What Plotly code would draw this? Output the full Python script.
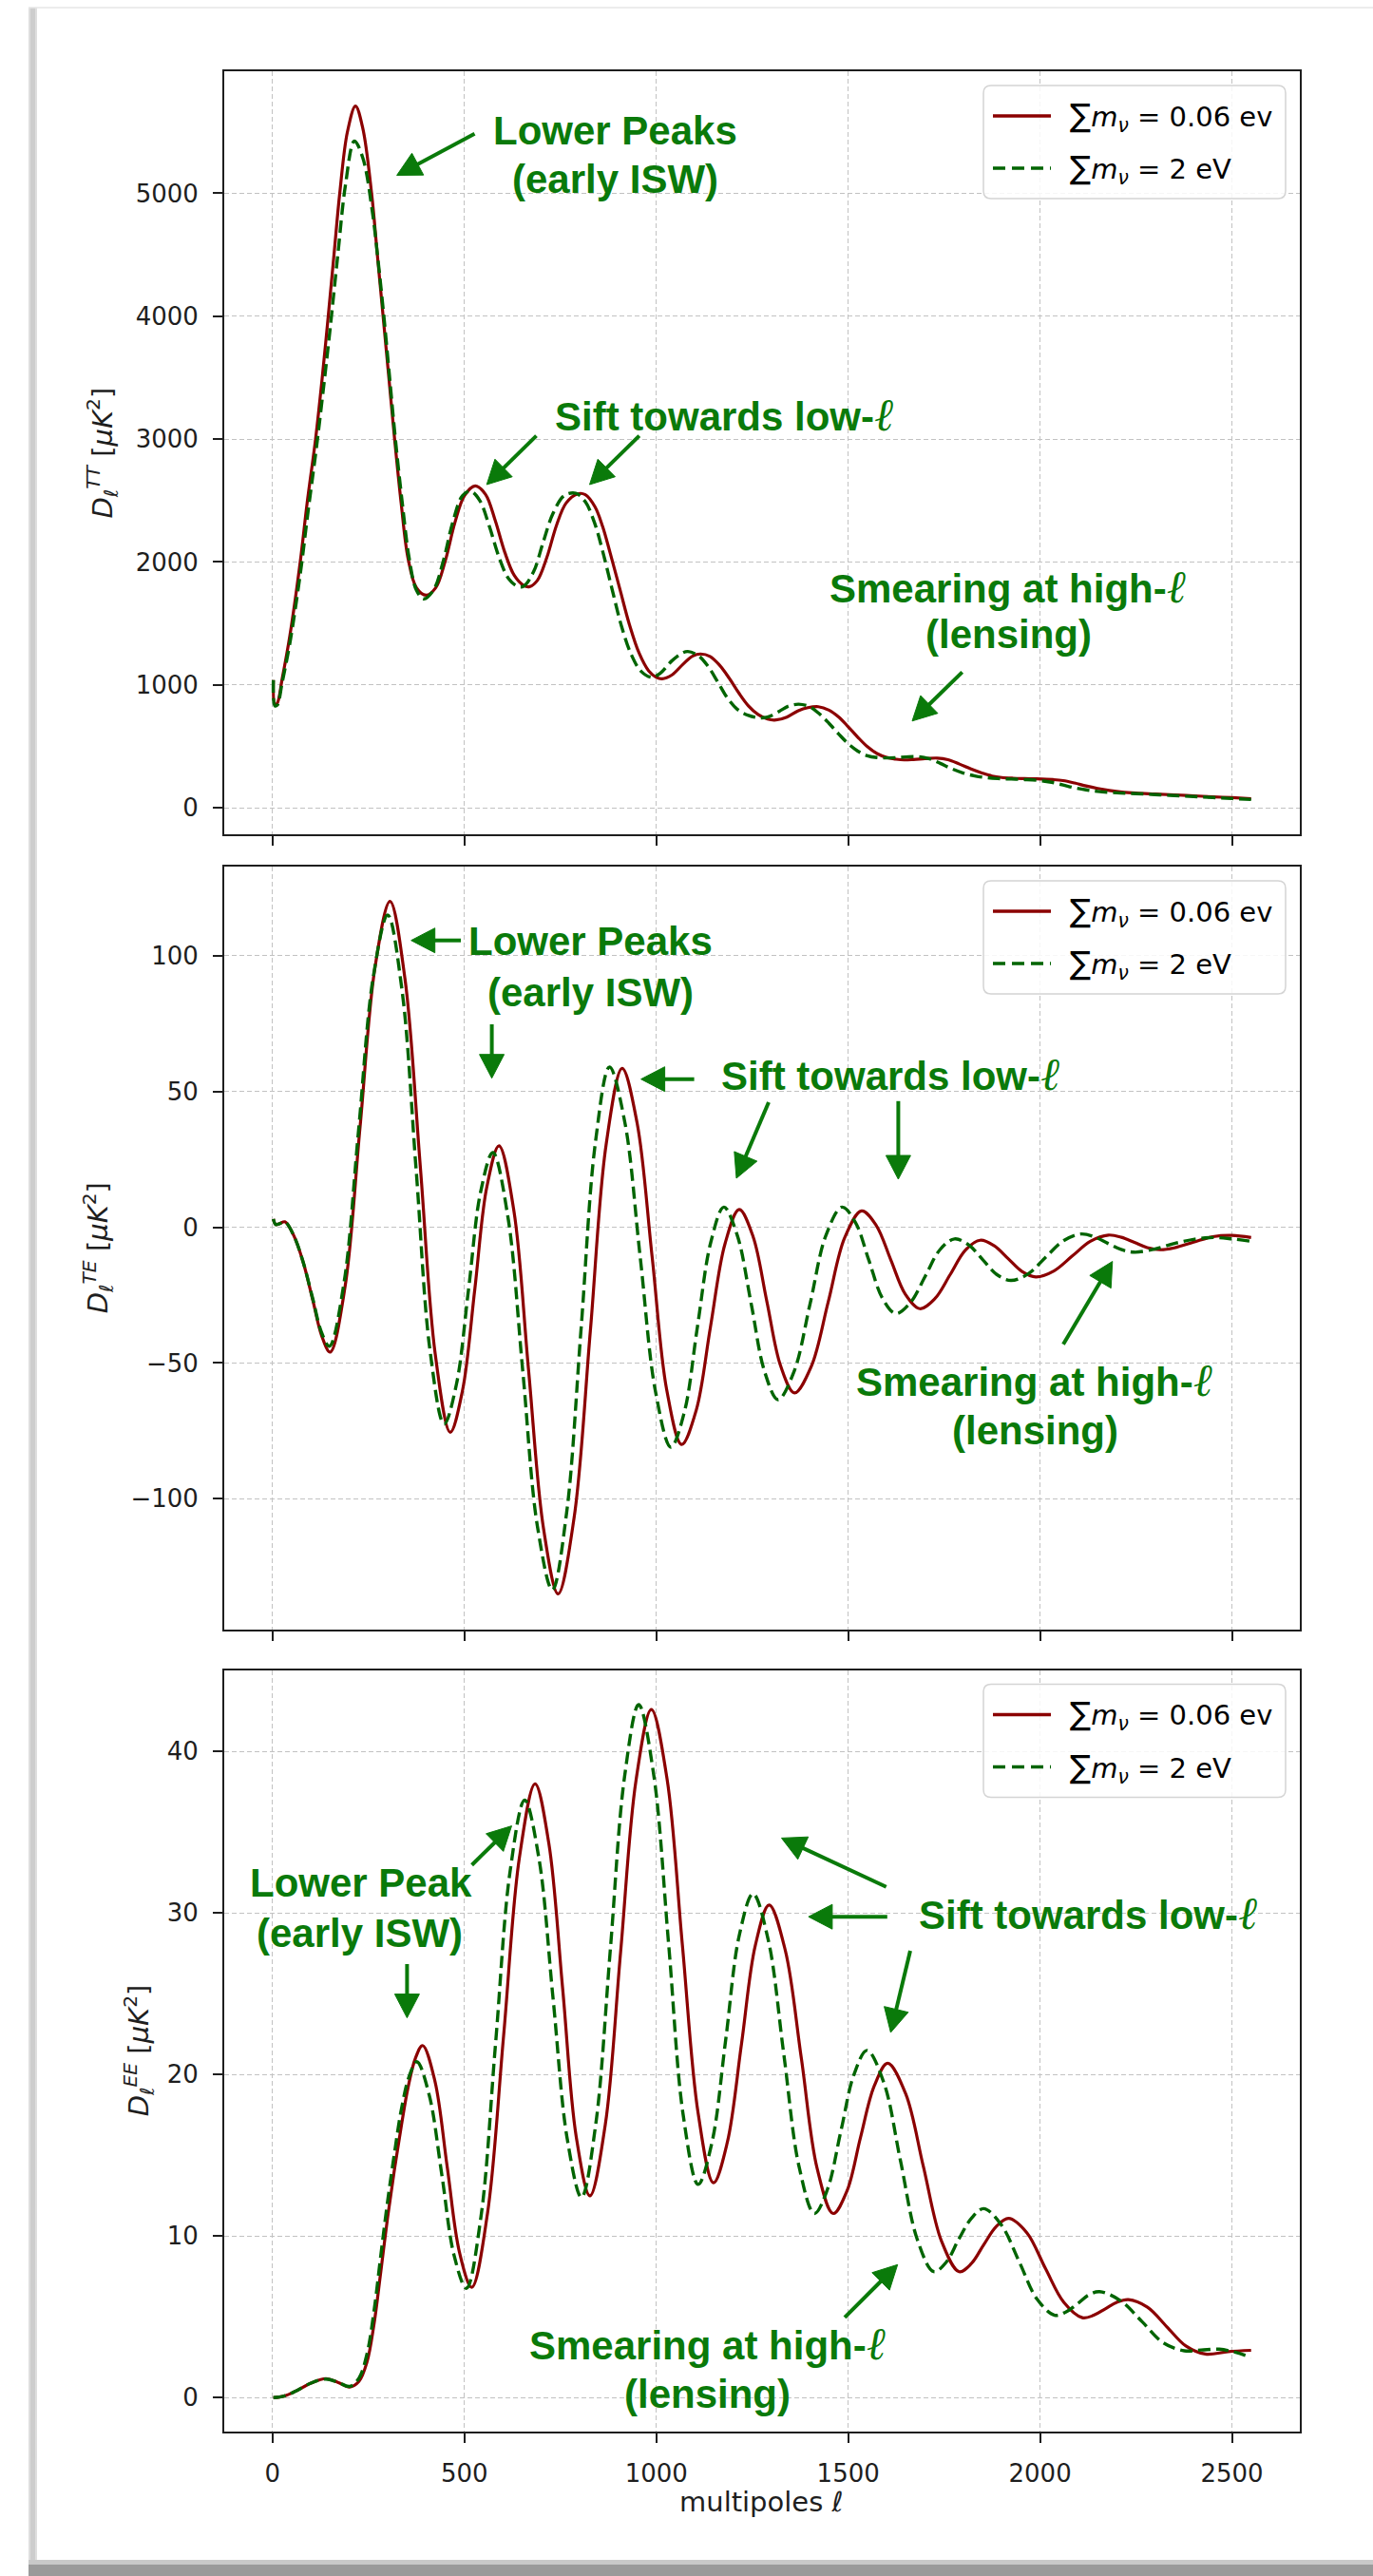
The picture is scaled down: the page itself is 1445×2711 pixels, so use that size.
import math
import plotly.graph_objects as go

# ------------------------------------------------------------------ data
x_ticks = [0, 500, 1000, 1500, 2000, 2500]
tt_ticks = [0, 1000, 2000, 3000, 4000, 5000]
te_ticks = [-100, -50, 0, 50, 100]
ee_ticks = [0, 10, 20, 30, 40]
series_names = ["<span style='font-size:33px'>∑</span><i>m</i><sub><i>ν</i></sub> = 0.06 ev",
                "<span style='font-size:33px'>∑</span><i>m</i><sub><i>ν</i></sub> = 2 eV"]

# TT, sum m_nu = 0.06 eV
tt_ell_r = [2, 6, 12, 25, 45, 72, 90, 112, 130, 145, 160, 175, 195, 216, 235, 258, 273, 288, 303, 318,
            335, 353, 375, 400, 425, 450, 475, 500, 528, 555, 580, 605, 630, 655, 670, 690, 715, 740,
            765, 795, 815, 840, 860, 880, 905, 930, 955, 980, 1000, 1015, 1040, 1070, 1095, 1115, 1140,
            1165, 1190, 1215, 1240, 1265, 1290, 1312, 1340, 1370, 1395, 1422, 1450, 1475, 1500, 1525,
            1550, 1575, 1600, 1625, 1646, 1670, 1700, 1732, 1760, 1790, 1820, 1850, 1875, 1900, 1930,
            1960, 1990, 2034, 2060, 2090, 2120, 2150, 2180, 2214, 2250, 2300, 2350, 2400, 2450, 2500, 2550]
tt_r = [1040, 840, 850, 1050, 1400, 2000, 2480, 3000, 3520, 4000, 4500, 5000, 5500, 5710, 5530, 5000,
        4500, 4000, 3500, 3000, 2480, 2030, 1790, 1730, 1790, 2010, 2320, 2540, 2620, 2550, 2340, 2080,
        1890, 1808, 1800, 1850, 2040, 2300, 2480, 2555, 2548, 2450, 2290, 2070, 1780, 1490, 1260, 1115,
        1062, 1050, 1080, 1170, 1235, 1252, 1232, 1160, 1055, 935, 830, 760, 722, 715, 738, 790, 815,
        823, 795, 740, 660, 575, 498, 442, 410, 396, 390, 393, 400, 405, 392, 356, 316, 282, 259, 247,
        241, 238, 236, 230, 222, 202, 178, 158, 142, 128, 120, 113, 106, 98, 90, 83, 75]

# TT, sum m_nu = 2 eV
tt_ell_g = [2, 6, 12, 25, 45, 72, 92, 115, 135, 150, 170, 190, 213, 235, 260, 275, 290, 305, 320, 338,
            356, 375, 394, 420, 445, 470, 495, 516, 540, 565, 590, 615, 640, 655, 680, 705, 730, 760,
            790, 815, 840, 860, 885, 910, 935, 960, 988, 1010, 1040, 1065, 1082, 1110, 1135, 1160, 1185,
            1210, 1240, 1270, 1290, 1320, 1345, 1371, 1400, 1425, 1450, 1475, 1500, 1525, 1550, 1575,
            1600, 1625, 1650, 1682, 1710, 1740, 1770, 1800, 1830, 1860, 1890, 1925, 1960, 2000, 2030,
            2060, 2090, 2120, 2150, 2200, 2250, 2300, 2350, 2400, 2450, 2500, 2550]
tt_g = [1040, 830, 835, 1020, 1340, 1900, 2400, 2950, 3480, 3900, 4500, 5070, 5425, 5290, 4850, 4450,
        4000, 3500, 3000, 2480, 2030, 1770, 1700, 1775, 2010, 2330, 2540, 2576, 2500, 2290, 2040, 1865,
        1800, 1805, 1920, 2160, 2390, 2540, 2560, 2490, 2310, 2090, 1775, 1470, 1245, 1112, 1062, 1095,
        1195, 1255, 1272, 1238, 1150, 1025, 895, 805, 752, 732, 738, 785, 828, 843, 822, 765, 688, 602,
        522, 462, 424, 409, 406, 409, 414, 417, 401, 362, 318, 283, 260, 246, 238, 234, 230, 222, 208,
        186, 163, 146, 134, 122, 116, 108, 100, 92, 84, 76, 68]

# TE, sum m_nu = 0.06 eV
te_ell_r = [2, 8, 18, 32, 55, 80, 105, 128, 150, 189, 228, 267, 306, 345, 385, 424, 463, 495, 527, 558,
            590, 629, 667, 706, 744, 786, 828, 869, 911, 950, 989, 1027, 1066, 1104, 1141, 1179, 1216,
            1252, 1288, 1324, 1360, 1404, 1448, 1491, 1535, 1573, 1611, 1649, 1687, 1726, 1766, 1805,
            1844, 1880, 1917, 1953, 1989, 2036, 2084, 2131, 2178, 2212, 2246, 2279, 2313, 2350, 2400,
            2450, 2500, 2550]
te_r = [3.0, 1.0, 1.3, 2.0, -3, -13, -27, -40, -46, -21.8, 37, 95.8, 120, 91.5, 22.3, -46.9, -75.5,
        -60.1, -22.8, 14.6, 30, 5.9, -52.5, -110.9, -135, -106.7, -38.3, 30.2, 58.5, 38.3, -10.8,
        -59.8, -80, -67.4, -36.8, -6.1, 6.5, -3.4, -27.3, -51.1, -61, -51.2, -27.5, -3.8, 6, 0.7, -12,
        -24.7, -30, -26.3, -17.4, -8.5, -4.8, -6.8, -11.6, -16.3, -18.3, -16.1, -10.6, -5.2, -2.9,
        -3.7, -5.6, -7.5, -8.3, -7.6, -5.5, -3.5, -3.0, -3.8]

# TE, sum m_nu = 2 eV
te_ell_g = [2, 8, 18, 32, 55, 80, 105, 127, 148, 186, 224, 262, 300, 337, 374, 410, 447, 479, 511, 542,
            574, 613, 652, 690, 729, 766, 804, 841, 878, 918, 958, 998, 1038, 1073, 1107, 1142, 1176,
            1211, 1247, 1282, 1317, 1359, 1401, 1442, 1484, 1519, 1554, 1589, 1624, 1662, 1701, 1739,
            1777, 1814, 1851, 1887, 1924, 1970, 2015, 2061, 2106, 2141, 2176, 2211, 2246, 2300, 2350,
            2400, 2450, 2500, 2550]
te_g = [3.0, 1.0, 1.3, 2.0, -3, -13, -26.5, -38.5, -43.8, -20.6, 35.6, 91.8, 115, 87.6, 21.3, -45.1,
        -72.5, -57.9, -22.5, 12.9, 27.5, 4, -53, -110, -133.5, -105.4, -37.3, 30.9, 59, 38.6, -11,
        -60.6, -81, -68.1, -36.8, -5.5, 7.4, -3, -28, -53.1, -63.5, -53.1, -28, -3, 7.4, 1.7, -12.2,
        -26.1, -31.8, -27.8, -18, -8.3, -4.3, -6.5, -12, -17.4, -19.6, -17.1, -11, -5, -2.5, -3.5,
        -5.9, -8.2, -9.2, -8, -6, -4.5, -3.8, -4.3, -5.2]

# EE, sum m_nu = 0.06 eV
ee_ell_r = [2, 30, 60, 100, 139, 170, 201, 225, 246, 264, 282, 300, 318, 336, 353, 372, 391, 423, 455,
            487, 519, 560, 602, 643, 684, 720, 756, 791, 827, 867, 907, 947, 987, 1028, 1068, 1109, 1149,
            1185, 1222, 1258, 1294, 1336, 1378, 1419, 1461, 1497, 1532, 1568, 1603, 1650, 1696, 1743,
            1789, 1821, 1854, 1886, 1918, 1966, 2014, 2062, 2110, 2140, 2170, 2200, 2230, 2280, 2330,
            2380, 2431, 2490, 2550]
ee_r = [0.0, 0.1, 0.4, 0.9, 1.18, 0.95, 0.66, 1.0, 2.2, 4.5, 7.8, 11.2, 14.2, 16.9, 19.2, 21.0, 21.8,
        19.6, 14.3, 9.0, 6.83, 11.4, 22.4, 33.4, 38.0, 34.3, 25.3, 16.2, 12.5, 16.9, 27.6, 38.2, 42.6,
        38.3, 28.0, 17.6, 13.3, 15.8, 21.9, 28.0, 30.5, 27.7, 21.0, 14.2, 11.4, 12.8, 16.1, 19.3, 20.7,
        18.8, 14.3, 9.7, 7.8, 8.3, 9.5, 10.6, 11.1, 10.2, 8.0, 5.9, 4.95, 5.1, 5.5, 5.9, 6.07, 5.6,
        4.4, 3.2, 2.7, 2.85, 2.93]

# EE, sum m_nu = 2 eV
ee_ell_g = [2, 30, 60, 100, 139, 170, 201, 225, 246, 264, 282, 300, 318, 336, 356, 376, 408, 441, 473,
            505, 543, 581, 619, 657, 694, 731, 768, 805, 842, 880, 917, 954, 993, 1032, 1070, 1109, 1145,
            1181, 1216, 1252, 1292, 1332, 1372, 1412, 1446, 1481, 1515, 1549, 1593, 1636, 1680, 1723,
            1756, 1788, 1821, 1853, 1899, 1946, 1992, 2038, 2067, 2097, 2126, 2155, 2210, 2266, 2321,
            2376, 2420, 2467, 2510, 2550]
ee_g = [0.0, 0.1, 0.4, 0.9, 1.15, 0.95, 0.7, 1.2, 2.7, 5.3, 8.8, 12.2, 15.2, 17.9, 19.9, 20.8, 18.75,
        13.8, 8.8, 6.77, 11.2, 21.9, 32.6, 37.0, 33.4, 24.7, 16.0, 12.4, 16.9, 27.7, 38.4, 42.9, 38.6,
        28.1, 17.5, 13.2, 15.8, 22.2, 28.6, 31.2, 28.3, 21.3, 14.3, 11.4, 12.9, 16.5, 20.0, 21.5, 19.5,
        14.7, 9.8, 7.8, 8.4, 9.8, 11.1, 11.7, 10.7, 8.4, 6.1, 5.1, 5.3, 5.8, 6.35, 6.56, 6.0, 4.7, 3.4,
        2.9, 2.95, 3.0, 2.8, 2.48]

# ------------------------------------------------------------------ layout helpers
W, H = 1445, 2711


def fx(x):
    return x / W


def fy(y):
    return 1 - y / H


RED = "#8b0000"
DGREEN = "#006400"
ANN = "#0a7a0a"
AXC = "#1e1e1e"
TICKFONT = dict(family="DejaVu Sans", size=26, color=AXC)
ANNFONT = dict(family="Liberation Sans, Arial, Helvetica, sans-serif", size=42, color=ANN)
ELL = "<span style='font-family:DejaVu Serif;font-style:italic;font-weight:normal;font-size:48px'>ℓ</span>"

X0, X1 = 236, 1368
XRANGE = [-126, 2677]

panels = [
    dict(er=tt_ell_r, r=tt_r, eg=tt_ell_g, g=tt_g, ticks=tt_ticks, rng=[-215, 5993], top=75, bot=878,
         ytitle="<i>D</i><sub><i>ℓ</i></sub><sup><i>TT</i></sup> [<i>μK</i><sup>2</sup>]", ytx=108),
    dict(er=te_ell_r, r=te_r, eg=te_ell_g, g=te_g, ticks=te_ticks, rng=[-148, 132.8], top=912, bot=1714.5,
         ytitle="<i>D</i><sub><i>ℓ</i></sub><sup><i>TE</i></sup> [<i>μK</i><sup>2</sup>]", ytx=103),
    dict(er=ee_ell_r, r=ee_r, eg=ee_ell_g, g=ee_g, ticks=ee_ticks, rng=[-2.1, 45.05], top=1757.5, bot=2559,
         ytitle="<i>D</i><sub><i>ℓ</i></sub><sup><i>EE</i></sup> [<i>μK</i><sup>2</sup>]", ytx=146),
]

fig = go.Figure()
layout = dict(width=W, height=H, margin=dict(l=0, r=0, t=0, b=0), paper_bgcolor="white",
              plot_bgcolor="white", showlegend=False)
annotations = []
shapes = []

for i, p in enumerate(panels):
    sfx = "" if i == 0 else str(i + 1)
    fig.add_trace(go.Scatter(x=p["er"], y=p["r"], mode="lines", name=series_names[0],
                             line=dict(color=RED, width=3.2, shape="spline", smoothing=1),
                             xaxis="x" + sfx, yaxis="y" + sfx, hoverinfo="skip"))
    fig.add_trace(go.Scatter(x=p["eg"], y=p["g"], mode="lines", name=series_names[1],
                             line=dict(color=DGREEN, width=3.4, dash="13px,6px", shape="spline", smoothing=1),
                             xaxis="x" + sfx, yaxis="y" + sfx, hoverinfo="skip"))
    common = dict(showline=True, linecolor=AXC, linewidth=2, mirror=True, ticks="outside", ticklen=10,
                  tickwidth=2, tickcolor=AXC, showgrid=True, gridcolor="#c2c2c2", gridwidth=1.2,
                  griddash="5px,3px", zeroline=False, tickfont=TICKFONT, ticklabelstandoff=10)
    layout["xaxis" + sfx] = dict(domain=[fx(X0), fx(X1)], range=XRANGE, anchor="y" + sfx,
                                 tickvals=x_ticks, showticklabels=(i == 2), **common)
    layout["yaxis" + sfx] = dict(domain=[fy(p["bot"]), fy(p["top"])], range=p["rng"], anchor="x" + sfx,
                                 tickvals=p["ticks"], **common)
    # y-axis title
    annotations.append(dict(x=fx(p["ytx"]), y=fy((p["top"] + p["bot"]) / 2), xref="paper", yref="paper",
                            text=p["ytitle"], showarrow=False, textangle=-90, xanchor="center",
                            yanchor="middle", font=dict(family="DejaVu Sans", size=29, color=AXC)))
    # legend (drawn by hand so the line samples have matplotlib's length)
    t = p["top"]
    lx0, lx1, ly0, ly1, rr = 1035, 1353, t + 15, t + 134, 8
    path = (f"M {fx(lx0 + rr)},{fy(ly0)} L {fx(lx1 - rr)},{fy(ly0)} Q {fx(lx1)},{fy(ly0)} {fx(lx1)},{fy(ly0 + rr)} "
            f"L {fx(lx1)},{fy(ly1 - rr)} Q {fx(lx1)},{fy(ly1)} {fx(lx1 - rr)},{fy(ly1)} "
            f"L {fx(lx0 + rr)},{fy(ly1)} Q {fx(lx0)},{fy(ly1)} {fx(lx0)},{fy(ly1 - rr)} "
            f"L {fx(lx0)},{fy(ly0 + rr)} Q {fx(lx0)},{fy(ly0)} {fx(lx0 + rr)},{fy(ly0)} Z")
    shapes.append(dict(type="path", path=path, xref="paper", yref="paper",
                       fillcolor="rgba(255,255,255,0.85)", line=dict(color="#d4d4d4", width=1.5), layer="above"))
    for k, (col, dash, rowy) in enumerate([(RED, "solid", t + 47), (DGREEN, "13px,7px", t + 102)]):
        shapes.append(dict(type="line", xref="paper", yref="paper", x0=fx(1045), x1=fx(1106),
                           y0=fy(rowy), y1=fy(rowy), line=dict(color=col, width=3.4, dash=dash), layer="above"))
        annotations.append(dict(x=fx(1124), y=fy(rowy + 1), xref="paper", yref="paper", text=series_names[k],
                                showarrow=False, xanchor="left", yanchor="middle",
                                font=dict(family="DejaVu Sans", size=29, color="#000")))

# x-axis title
annotations.append(dict(x=fx(801), y=fy(2633), xref="paper", yref="paper", text="multipoles <i>ℓ</i>",
                        showarrow=False, xanchor="center", yanchor="middle",
                        font=dict(family="DejaVu Sans", size=29, color=AXC)))

# green call-out texts: (text, centre x px, centre y px)
texts = [
    ("<b>Lower Peaks</b>", 647, 137.5), ("<b>(early ISW)</b>", 647, 188.5),
    ("<b>Sift towards low-" + ELL + "</b>", 762, 436.5),
    ("<b>Smearing at high-" + ELL + "</b>", 1060, 617), ("<b>(lensing)</b>", 1061, 668),
    ("<b>Lower Peaks</b>", 621, 990.5), ("<b>(early ISW)</b>", 621, 1044.5),
    ("<b>Sift towards low-" + ELL + "</b>", 936.5, 1129.5),
    ("<b>Smearing at high-" + ELL + "</b>", 1088, 1452), ("<b>(lensing)</b>", 1089, 1505),
    ("<b>Lower Peak</b>", 379.5, 1981.5), ("<b>(early ISW)</b>", 378.5, 2035),
    ("<b>Sift towards low-" + ELL + "</b>", 1145, 2012.5),
    ("<b>Smearing at high-" + ELL + "</b>", 744.5, 2466), ("<b>(lensing)</b>", 744.5, 2519.5),
]
for txt, cx, cy in texts:
    annotations.append(dict(x=fx(cx), y=fy(cy), xref="paper", yref="paper", text=txt, showarrow=False,
                            xanchor="center", yanchor="middle", font=ANNFONT))

# arrows: (tail x, tail y, tip x, tip y) in px, drawn as shaft + filled triangular head
arrows = [
    (499.5, 140.8, 417.6, 184.5), (564.5, 458.6, 512.2, 510), (672.8, 458.6, 620.5, 510),
    (1012.7, 707.4, 960, 758.8),
    (485, 989.7, 432.7, 989.7), (517.6, 1078, 517.6, 1134.7), (730.6, 1135.7, 674.6, 1135.7),
    (809, 1160, 775, 1240), (945.4, 1158.8, 945.4, 1241), (1119, 1414.8, 1170.8, 1327.5),
    (428.4, 2067, 428.4, 2123.6), (496.6, 1962.7, 538.5, 1921.6), (932.7, 1985.8, 822.5, 1934.4),
    (933.8, 2017.2, 850.9, 2017.2), (958, 2053, 937.4, 2139), (889, 2438.8, 944.7, 2383.3),
]
HEAD_LEN, HEAD_W, SHAFT_W = 25, 26, 4
for tx, ty, hx, hy in arrows:
    d = math.hypot(hx - tx, hy - ty)
    ux, uy = (hx - tx) / d, (hy - ty) / d
    bx, by = hx - ux * HEAD_LEN, hy - uy * HEAD_LEN
    px_, py_ = -uy, ux
    shapes.append(dict(type="line", xref="paper", yref="paper", x0=fx(tx), y0=fy(ty),
                       x1=fx(bx + ux * 2), y1=fy(by + uy * 2), line=dict(color=ANN, width=SHAFT_W), layer="above"))
    c1 = (bx + px_ * HEAD_W / 2, by + py_ * HEAD_W / 2)
    c2 = (bx - px_ * HEAD_W / 2, by - py_ * HEAD_W / 2)
    shapes.append(dict(type="path", xref="paper", yref="paper",
                       path=f"M {fx(hx)},{fy(hy)} L {fx(c1[0])},{fy(c1[1])} L {fx(c2[0])},{fy(c2[1])} Z",
                       fillcolor=ANN, line=dict(color=ANN, width=1), layer="above"))

# page frame decoration (screenshot border / shadow)
shapes += [
    dict(type="rect", xref="paper", yref="paper", x0=fx(30), x1=fx(39), y0=fy(2711), y1=fy(8),
         fillcolor="#dedede", line=dict(width=0), layer="below"),
    dict(type="rect", xref="paper", yref="paper", x0=fx(32), x1=fx(37), y0=fy(2711), y1=fy(8),
         fillcolor="#cdcdcd", line=dict(width=0), layer="below"),
    dict(type="line", xref="paper", yref="paper", x0=fx(30), x1=1, y0=fy(8), y1=fy(8),
         line=dict(color="#e6e6e6", width=1.5), layer="below"),
    dict(type="rect", xref="paper", yref="paper", x0=fx(30), x1=1, y0=fy(2711), y1=fy(2694),
         fillcolor="#c9c9c9", line=dict(width=0), layer="below"),
    dict(type="rect", xref="paper", yref="paper", x0=fx(30), x1=1, y0=fy(2711), y1=fy(2699),
         fillcolor="#9a9a9a", line=dict(width=0), layer="below"),
]

layout["annotations"] = annotations
layout["shapes"] = shapes
fig.update_layout(**layout)
fig.write_html("out.html")
